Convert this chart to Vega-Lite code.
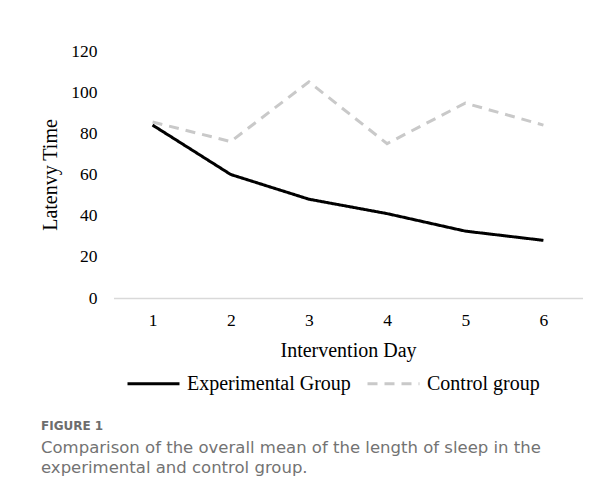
{
  "$schema": "https://vega.github.io/schema/vega-lite/v6.json",
  "autosize": "none",
  "width": 469,
  "height": 247,
  "padding": {"left": 113.5, "top": 51, "right": 30.5, "bottom": 206},
  "background": "white",
  "config": {"view": {"stroke": null}, "font": "Liberation Serif"},
  "title": {
    "text": "FIGURE 1",
    "subtitle": ["Comparison of the overall mean of the length of sleep in the", "experimental and control group."],
    "orient": "bottom",
    "anchor": "start",
    "frame": "group",
    "dx": -72.5,
    "offset": 27,
    "font": "DejaVu Sans",
    "fontSize": 12,
    "fontWeight": "bold",
    "color": "#6d6d6d",
    "subtitleFont": "DejaVu Sans",
    "subtitleFontSize": 16.5,
    "subtitleColor": "#737373",
    "subtitlePadding": 7,
    "subtitleLineHeight": 20
  },
  "data": {
    "values": [
      {"day": "1", "group": "Experimental Group", "value": 84},
      {"day": "2", "group": "Experimental Group", "value": 60},
      {"day": "3", "group": "Experimental Group", "value": 48},
      {"day": "4", "group": "Experimental Group", "value": 41},
      {"day": "5", "group": "Experimental Group", "value": 32.5},
      {"day": "6", "group": "Experimental Group", "value": 28},
      {"day": "1", "group": "Control group", "value": 85.5},
      {"day": "2", "group": "Control group", "value": 76},
      {"day": "3", "group": "Control group", "value": 105},
      {"day": "4", "group": "Control group", "value": 75},
      {"day": "5", "group": "Control group", "value": 94.7},
      {"day": "6", "group": "Control group", "value": 84}
    ]
  },
  "mark": {"type": "line", "strokeWidth": 3},
  "encoding": {
    "x": {
      "field": "day",
      "type": "ordinal",
      "scale": {"type": "point", "padding": 0.5},
      "axis": {
        "title": "Intervention Day",
        "labelAngle": 0,
        "ticks": false,
        "domainColor": "#d9d9d9",
        "domainWidth": 1.5,
        "labelFont": "Liberation Serif",
        "labelFontSize": 17.5,
        "labelColor": "#000",
        "labelPadding": 13,
        "titleFont": "Liberation Serif",
        "titleFontSize": 20,
        "titleFontWeight": "normal",
        "titleColor": "#000",
        "titlePadding": 12
      }
    },
    "y": {
      "field": "value",
      "type": "quantitative",
      "scale": {"domain": [0, 120]},
      "axis": {
        "title": "Latenvy Time",
        "values": [0, 20, 40, 60, 80, 100, 120],
        "grid": false,
        "domain": false,
        "ticks": false,
        "labelFont": "Liberation Serif",
        "labelFontSize": 17.5,
        "labelColor": "#000",
        "labelPadding": 16.5,
        "titleFont": "Liberation Serif",
        "titleFontSize": 20,
        "titleFontWeight": "normal",
        "titleColor": "#000",
        "titlePadding": 10
      }
    },
    "color": {
      "field": "group",
      "type": "nominal",
      "scale": {"domain": ["Experimental Group", "Control group"], "range": ["#000000", "#c9c9c9"]},
      "legend": {
        "title": null,
        "orient": "none",
        "direction": "horizontal",
        "legendX": 12.5,
        "legendY": 305,
        "offset": 0,
        "padding": 0,
        "symbolType": "stroke",
        "symbolSize": 2704,
        "symbolStrokeWidth": 3,
        "labelFont": "Liberation Serif",
        "labelFontSize": 20,
        "labelColor": "#000",
        "labelLimit": 400,
        "labelOffset": 6,
        "columnPadding": 10
      }
    },
    "strokeDash": {
      "field": "group",
      "type": "nominal",
      "scale": {"domain": ["Experimental Group", "Control group"], "range": [[1, 0], [10, 7]]},
      "legend": {
        "title": null,
        "orient": "none",
        "direction": "horizontal",
        "legendX": 12.5,
        "legendY": 305,
        "offset": 0,
        "padding": 0,
        "symbolType": "stroke",
        "symbolSize": 2704,
        "symbolStrokeWidth": 3,
        "labelFont": "Liberation Serif",
        "labelFontSize": 20,
        "labelColor": "#000",
        "labelLimit": 400,
        "labelOffset": 6,
        "columnPadding": 10
      }
    }
  }
}
